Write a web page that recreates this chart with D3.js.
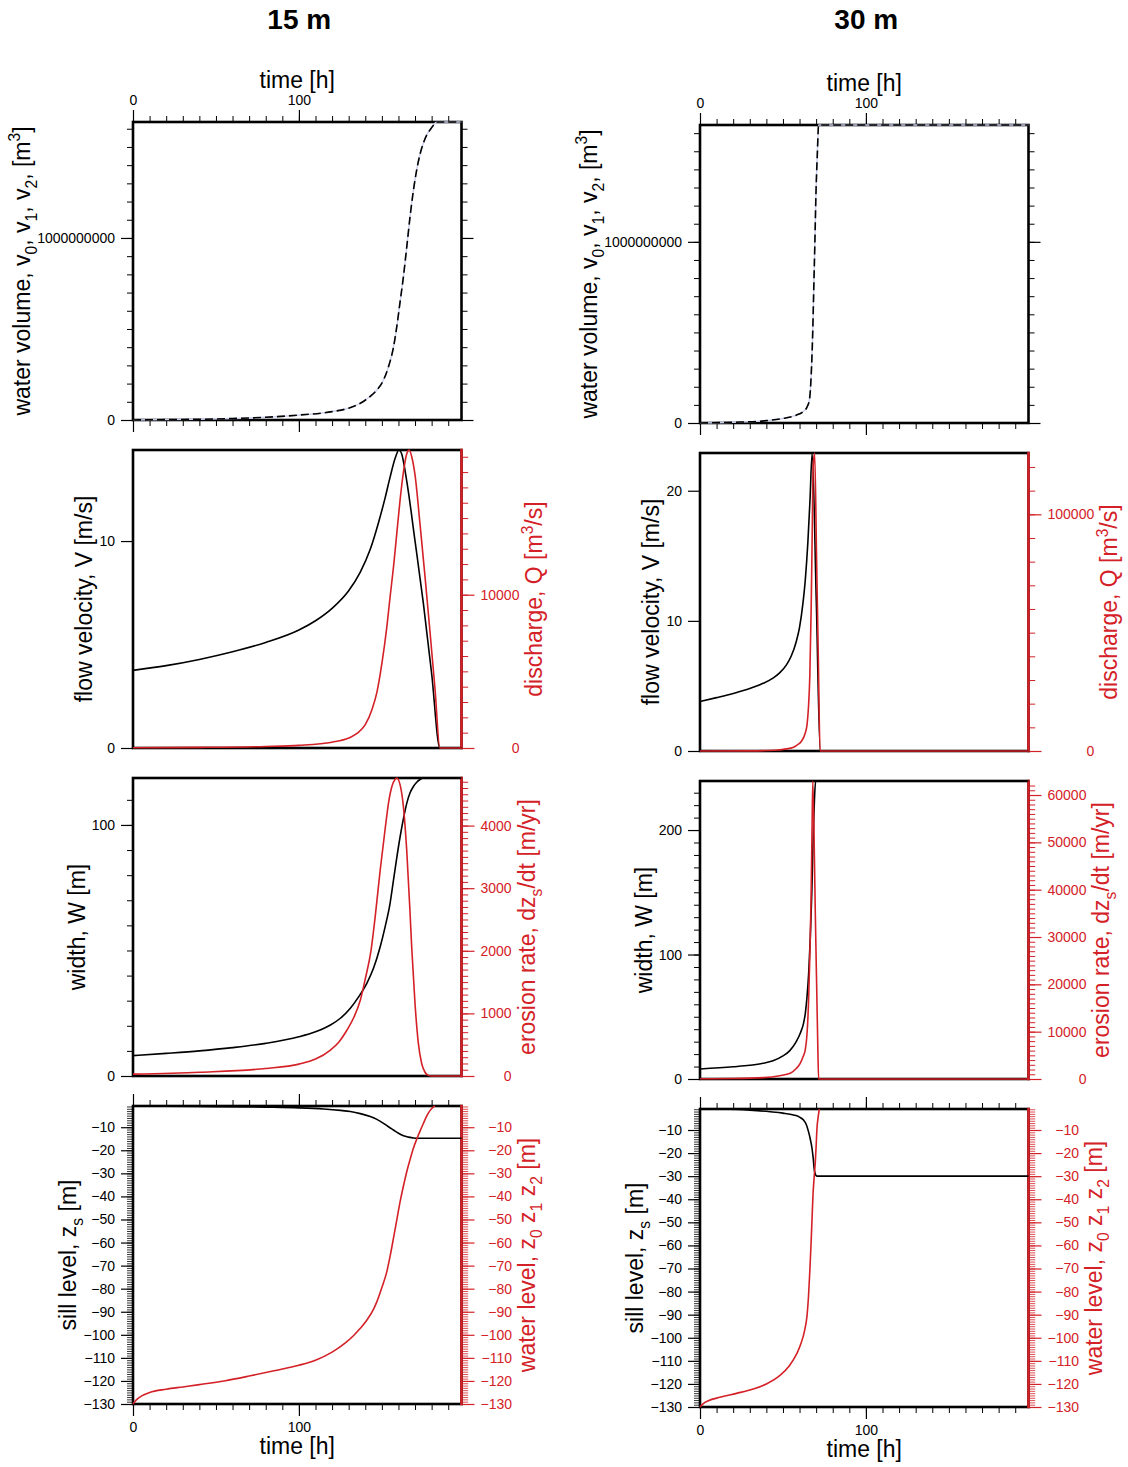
<!DOCTYPE html>
<html>
<head>
<meta charset="utf-8">
<script src="https://cdn.jsdelivr.net/npm/d3@7"></script>
<style>
  body { margin: 0; background: #fff; }
  svg text { white-space: pre; }
</style>
</head>
<body>
<svg id="fig" width="1128" height="1467"></svg>
<script>
// ---------- run with 15 m sill erosion ----------
const time15Volume = [0, 20, 40, 60, 80, 100, 120, 130, 137, 143, 147, 151, 154, 157, 159, 161, 163, 165, 167, 169, 171, 173, 175, 177, 179, 181, 183, 198];
const volume15 = [0, 2e6, 4e6, 8e6, 15e6, 27e6, 46e6, 65e6, 92e6, 130e6, 165e6, 220e6, 293e6, 400e6, 513e6, 650e6, 788e6, 950e6, 1117e6, 1260e6, 1374e6, 1460e6, 1520e6, 1565e6, 1593e6, 1618e6, 1637e6, 1637e6];

const time15Velocity = [0, 20, 40, 60, 80, 100, 110, 120, 130, 137, 143, 148, 152, 155, 158, 160.3, 162, 165, 170, 175, 180, 185, 198];
const velocity15 = [3.75, 3.98, 4.28, 4.65, 5.1, 5.7, 6.15, 6.75, 7.6, 8.5, 9.6, 10.9, 12.1, 13.1, 14.0, 14.4, 14.2, 12.9, 10.0, 7.0, 3.6, 0, 0];

const time15Discharge = [0, 40, 80, 100, 120, 130, 135, 140, 144, 147, 150, 153, 155, 157, 159, 161, 163, 165, 166.5, 168, 170, 173, 176, 179, 182, 185, 198];
const discharge15 = [20, 40, 100, 170, 380, 650, 950, 1520, 2500, 3630, 5500, 7900, 9900, 11800, 14000, 16200, 18000, 19200, 19440, 19000, 17800, 14600, 11200, 7600, 3900, 0, 0];

const time15Width = [0, 20, 40, 60, 80, 100, 110, 119, 125, 131, 136, 141, 145, 149, 152, 155, 157, 159, 161, 163, 165, 167, 169, 171, 173, 175, 198];
const width15 = [8.1, 9.0, 10.0, 11.3, 13.0, 15.6, 17.6, 20.3, 23.0, 27.0, 31.5, 37.0, 43.0, 51.5, 59.5, 69.0, 78.0, 87.0, 95.3, 102.5, 108.6, 112.8, 115.3, 117.0, 118.1, 118.7, 118.7];

const time15Erosion = [0, 40, 80, 100, 110, 119, 124, 129, 133, 137, 140, 143.5, 146, 149, 152, 154, 156, 158, 159, 161, 163, 165, 167, 168, 170, 172, 174, 176, 178, 180, 198];
const erosion15 = [30, 60, 120, 190, 270, 415, 540, 735, 930, 1210, 1550, 2010, 2550, 3290, 3950, 4360, 4620, 4740, 4760, 4650, 4300, 3600, 2600, 2050, 1150, 520, 200, 60, 10, 0, 0];

const time15Sill = [0, 40, 80, 100, 115, 125, 131, 137, 143, 147, 151, 154, 157, 160, 163, 166, 169, 172, 198];
const sill15 = [-0.8, -1.0, -1.3, -1.6, -2.1, -2.7, -3.2, -4.1, -5.4, -6.6, -8.3, -9.8, -11.2, -12.6, -13.7, -14.3, -14.7, -14.8, -14.8];

const time15Water = [0, 2, 5, 10, 20, 30, 40, 55, 70, 85, 100, 110, 120, 128, 133, 137, 141, 145, 147, 150, 153, 155, 157, 159, 161, 163, 165, 167, 169, 171, 173, 175, 177, 179, 181, 182];
const water15 = [-130, -128.2, -126.6, -125, -123.6, -122.6, -121.6, -120.0, -117.9, -115.6, -113.2, -111.0, -107.5, -103.5, -100.3, -97.2, -93.6, -88.9, -85.6, -79.5, -72.6, -65.8, -58.1, -50.2, -42.3, -35.5, -29.3, -24, -19.1, -15.2, -11.7, -8.4, -5.2, -2.8, -1.3, -0.8];

// ---------- run with 30 m sill erosion ----------
const time30Volume = [0, 20, 40, 50, 58, 62, 64.5, 66, 67, 68, 68.5, 69.2, 69.9, 70.7, 71.5, 198];
const volume30 = [0, 4e6, 13e6, 25e6, 43e6, 62e6, 88e6, 130e6, 260e6, 520e6, 715e6, 980e6, 1267e6, 1480e6, 1645e6, 1645e6];

const time30Velocity = [0, 10, 20, 30, 38, 44, 48, 52, 55, 58, 60, 62, 63.5, 65, 66.3, 67.6, 70.1, 72.5, 198];
const velocity30 = [3.8, 4.1, 4.42, 4.8, 5.2, 5.6, 6.0, 6.6, 7.3, 8.4, 9.5, 11.3, 13.2, 16.0, 19.3, 22.9, 11.5, 0, 0];

const time30Discharge = [0, 30, 45, 52, 56, 58.5, 61, 63.4, 64.5, 65.4, 66.2, 67, 67.6, 68.2, 69.1, 70.3, 71.3, 72.4, 198];
const discharge30 = [0, 50, 300, 900, 1500, 2500, 4000, 7500, 11000, 18700, 32000, 60000, 90000, 120000, 125900, 80000, 40000, 0, 0];

const time30Width = [0, 20, 30, 38, 44, 50, 54, 58, 60.5, 62.4, 63.5, 64.5, 65.5, 66.5, 67.4, 68.2, 69, 69.7, 198];
const width30 = [8, 9.8, 11.0, 12.6, 14.6, 18.6, 22.6, 30.0, 37.0, 44.7, 53.0, 66, 85, 114, 150, 194, 225, 239.4, 239.4];

const time30Erosion = [0, 20, 38.3, 48, 54.4, 58, 60.4, 62, 63.4, 64.5, 65.4, 66.2, 66.9, 67.5, 68, 69, 69.5, 70.3, 71, 71.5, 198];
const erosion30 = [50, 100, 300, 700, 1200, 2200, 3300, 4600, 6100, 9500, 16000, 26000, 37200, 52000, 62960, 46000, 35000, 20000, 7000, 0, 0];

const time30Sill = [0, 18, 30, 42.3, 50, 56.4, 60, 62.4, 64, 65.4, 66.5, 67.5, 68.2, 68.9, 69.6, 70.5, 198];
const sill30 = [-0.9, -1.0, -1.4, -2.1, -2.7, -3.5, -4.4, -5.7, -7.5, -10.7, -14, -17.9, -22, -27.3, -29.3, -30, -30];

const time30Water = [0, 2, 5, 12, 22, 32, 40, 48, 54, 58.4, 61, 63, 64.5, 65.4, 66.2, 66.9, 67.5, 68.1, 68.8, 69.5, 70, 70.5, 71.2, 71.9];
const water30 = [-130, -128.5, -127.3, -125.8, -124.1, -122.2, -120.0, -116.4, -112.0, -106.8, -102.2, -97, -90.5, -82, -71, -59.9, -49, -38.2, -30.5, -23.8, -17, -9.3, -4.5, -0.9];

// ---------- tick values ----------
const timeTicks = [0, 100];
const volumeTicks = [0, 1000000000];
const velocityTicks15 = [0, 10];
const velocityTicks30 = [0, 10, 20];
const dischargeTicks15 = [0, 10000];
const dischargeTicks30 = [0, 100000];
const widthTicks15 = [0, 100];
const widthTicks30 = [0, 100, 200];
const erosionTicks15 = [0, 1000, 2000, 3000, 4000];
const erosionTicks30 = [0, 10000, 20000, 30000, 40000, 50000, 60000];
const levelTicks = [-130, -120, -110, -100, -90, -80, -70, -60, -50, -40, -30, -20, -10];

// ---------- layout & style ----------
const FONT = '"Liberation Sans", Arial, Helvetica, sans-serif';
const RED = "#d42127";
const T_MAX = 198;
const PANEL_W = 328.5, PANEL_H = 298, PANEL_STEP = 328;
const TICK_MAJOR = 12, TICK_MINOR = 6;
const fmt = d3.format("d");

const svg = d3.select("#fig").attr("font-family", FONT);

function tickGroup(parent, gen, scale, values, size, color, labelled, pad, sw) {
  const sel = parent.append("g")
    .call(gen(scale).tickValues(values).tickSizeInner(size).tickSizeOuter(0)
      .tickPadding(pad).tickFormat(labelled ? fmt : () => ""));
  sel.attr("font-family", FONT).attr("font-size", 14);
  sel.select(".domain").remove();
  sel.selectAll(".tick line").attr("stroke", color).attr("stroke-width", sw);
  sel.selectAll(".tick text").attr("fill", color);
  return sel;
}

function richTitle(parent, parts, x, y, size, color, rotate) {
  const t = parent.append("text")
    .attr("x", x).attr("y", y)
    .attr("text-anchor", "middle")
    .attr("font-size", size)
    .attr("fill", color);
  if (rotate) t.attr("transform", `rotate(-90 ${x} ${y})`);
  let shift = 0;
  parts.forEach(p => {
    const [s, kind] = Array.isArray(p) ? p : [p, "n"];
    const target = kind === "sub" ? 0.3 * size : kind === "sup" ? -0.42 * size : 0;
    t.append("tspan")
      .attr("dy", target - shift)
      .attr("font-size", kind === "n" ? size : size * 0.68)
      .text(s);
    shift = target;
  });
  return t;
}

function maxWidth(sel) {
  let w = 0;
  sel.selectAll(".tick text").each(function () { w = Math.max(w, this.getComputedTextLength()); });
  return w;
}

function drawPanel(o) {
  const g = svg.append("g");
  const x1 = o.x0 + PANEL_W, bottom = o.top + PANEL_H;
  const x = d3.scaleLinear().domain([0, T_MAX]).range([o.x0, x1]);
  const yL = d3.scaleLinear().domain(o.left.domain).range([bottom, o.top]);
  const yR = o.right ? d3.scaleLinear().domain(o.right.domain).range([bottom, o.top]) : null;

  // time ticks on top / bottom edges
  const timeMinor = d3.range(0, T_MAX, 10);
  if (o.timeTop) {
    const gt = g.append("g").attr("transform", `translate(0,${o.top})`);
    tickGroup(gt, d3.axisTop, x, timeMinor, TICK_MINOR, "#000", false, 0, 1);
    tickGroup(gt, d3.axisTop, x, timeTicks, TICK_MAJOR, "#000", o.timeTop === "labels", 5, 1.2);
    if (o.timeTop === "labels") {
      g.append("text").attr("x", (o.x0 + x1) / 2).attr("y", o.top - 34)
        .attr("text-anchor", "middle").attr("font-size", 23).text("time [h]");
    }
  }
  if (o.timeBottom) {
    const gb = g.append("g").attr("transform", `translate(0,${bottom})`);
    tickGroup(gb, d3.axisBottom, x, timeMinor, TICK_MINOR, "#000", false, 0, 1);
    tickGroup(gb, d3.axisBottom, x, timeTicks, TICK_MAJOR, "#000", o.timeBottom === "labels", 6, 1.2);
    if (o.timeBottom === "labels") {
      g.append("text").attr("x", (o.x0 + x1) / 2).attr("y", bottom + 50)
        .attr("text-anchor", "middle").attr("font-size", 23).text("time [h]");
    }
  }

  // left axis
  const gl = g.append("g").attr("transform", `translate(${o.x0},0)`);
  if (o.left.minor) {
    tickGroup(gl, d3.axisLeft, yL, d3.range(o.left.domain[0], o.left.domain[1], o.left.minor),
      TICK_MINOR, "#000", false, 0, o.left.minorWidth || 1);
  }
  const majorL = tickGroup(gl, d3.axisLeft, yL, o.left.ticks, TICK_MAJOR, "#000", true, 6, 1.2);
  const wL = maxWidth(majorL);
  richTitle(g, o.left.title, o.x0 - 18 - wL - 7, (o.top + bottom) / 2, 23, "#000", true);

  // right axis: mirrored black ticks or red secondary axis
  const gr = g.append("g").attr("transform", `translate(${x1},0)`);
  if (o.mirror) {
    tickGroup(gr, d3.axisRight, yL, d3.range(o.left.domain[0], o.left.domain[1], o.left.minor),
      TICK_MINOR, "#000", false, 0, 1);
    tickGroup(gr, d3.axisRight, yL, o.left.ticks, TICK_MAJOR, "#000", false, 0, 1.2);
  }
  if (o.right) {
    tickGroup(gr, d3.axisRight, yR, d3.range(o.right.domain[0], o.right.domain[1], o.right.minor),
      TICK_MINOR + 0.7, RED, false, 0, o.right.minorWidth || 1);
    const majorR = tickGroup(gr, d3.axisRight, yR, o.right.ticks, TICK_MAJOR + 1, RED, true, 6, 1.2);
    const wR = maxWidth(majorR);
    majorR.selectAll(".tick text").attr("text-anchor", "end").attr("x", 19 + wR);
    richTitle(g, o.right.title, x1 + 19 + wR + 23, (o.top + bottom) / 2, 23, RED, true);
  }

  // frame
  g.append("rect").attr("x", o.x0).attr("y", o.top).attr("width", PANEL_W).attr("height", PANEL_H)
    .attr("fill", "none").attr("stroke", "#000").attr("stroke-width", 2.6);
  if (o.right) {
    g.append("line").attr("x1", x1).attr("x2", x1).attr("y1", o.top - 1.3).attr("y2", bottom + 1.3)
      .attr("stroke", RED).attr("stroke-width", 2.6);
  }

  // series
  o.series.forEach(s => {
    const y = s.side === "right" ? yR : yL;
    const line = d3.line().x(d => x(d[0])).y(d => y(d[1])).curve(d3.curveMonotoneX);
    g.append("path").datum(d3.zip(s.t, s.v))
      .attr("d", line)
      .attr("fill", "none")
      .attr("stroke", s.color)
      .attr("stroke-width", s.width || 1.6)
      .attr("stroke-dasharray", s.dash || null)
      .attr("stroke-linejoin", "round");
  });
}

const volumeTitle = ["water volume, v", ["0", "sub"], ", v", ["1", "sub"], ", v", ["2", "sub"], ", [m", ["3", "sup"], "]"];
const velocityTitle = ["flow velocity, V [m/s]"];
const dischargeTitle = ["discharge, Q [m", ["3", "sup"], "/s]"];
const widthTitle = ["width, W [m]"];
const erosionTitle = ["erosion rate, dz", ["s", "sub"], "/dt [m/yr]"];
const sillTitle = ["sill level, z", ["s", "sub"], " [m]"];
const waterTitle = ["water level, z", ["0", "sub"], " z", ["1", "sub"], " z", ["2", "sub"], " [m]"];

const columns = [
  {
    heading: "15 m", x0: 133, top: 122,
    volume: [time15Volume, volume15],
    velocity: [time15Velocity, velocity15, velocityTicks15],
    discharge: [time15Discharge, discharge15, dischargeTicks15, 1000],
    width: [time15Width, width15, widthTicks15],
    erosion: [time15Erosion, erosion15, erosionTicks15, 100],
    sill: [time15Sill, sill15],
    water: [time15Water, water15]
  },
  {
    heading: "30 m", x0: 700, top: 125,
    volume: [time30Volume, volume30],
    velocity: [time30Velocity, velocity30, velocityTicks30],
    discharge: [time30Discharge, discharge30, dischargeTicks30, 10000],
    width: [time30Width, width30, widthTicks30],
    erosion: [time30Erosion, erosion30, erosionTicks30, 1000],
    sill: [time30Sill, sill30],
    water: [time30Water, water30]
  }
];

columns.forEach(c => {
  svg.append("text")
    .attr("x", c.x0 + PANEL_W / 2 + 2).attr("y", 29)
    .attr("text-anchor", "middle").attr("font-size", 28).attr("font-weight", "bold")
    .text(c.heading);

  // water volume
  drawPanel({
    x0: c.x0, top: c.top, timeTop: "labels", timeBottom: "ticks", mirror: true,
    left: { domain: [0, d3.max(c.volume[1])], ticks: volumeTicks, minor: 1e8, title: volumeTitle },
    series: [
      { t: c.volume[0], v: c.volume[1], color: "#c9cff0", width: 1.4 },
      { t: c.volume[0], v: c.volume[1], color: "#000", width: 1.6, dash: "8,4" }
    ]
  });

  // flow velocity & discharge
  drawPanel({
    x0: c.x0, top: c.top + PANEL_STEP,
    left: { domain: [0, d3.max(c.velocity[1])], ticks: c.velocity[2], title: velocityTitle },
    right: { domain: [0, d3.max(c.discharge[1])], ticks: c.discharge[2], minor: c.discharge[3], title: dischargeTitle },
    series: [
      { t: c.velocity[0], v: c.velocity[1], color: "#000" },
      { t: c.discharge[0], v: c.discharge[1], color: RED, side: "right" }
    ]
  });

  // width & erosion rate
  drawPanel({
    x0: c.x0, top: c.top + 2 * PANEL_STEP,
    left: { domain: [0, d3.max(c.width[1])], ticks: c.width[2], minor: 10, title: widthTitle },
    right: { domain: [0, d3.max(c.erosion[1])], ticks: c.erosion[2], minor: c.erosion[3], title: erosionTitle },
    series: [
      { t: c.width[0], v: c.width[1], color: "#000" },
      { t: c.erosion[0], v: c.erosion[1], color: RED, side: "right" }
    ]
  });

  // sill level & water level
  const levelTop = Math.max(d3.max(c.sill[1]), d3.max(c.water[1]));
  drawPanel({
    x0: c.x0, top: c.top + 3 * PANEL_STEP, timeTop: "ticks", timeBottom: "labels",
    left: { domain: [-130, levelTop], ticks: levelTicks, minor: 1, minorWidth: 0.8, title: sillTitle },
    right: { domain: [-130, levelTop], ticks: levelTicks, minor: 1, minorWidth: 0.8, title: waterTitle },
    series: [
      { t: c.sill[0], v: c.sill[1], color: "#000" },
      { t: c.water[0], v: c.water[1], color: RED, side: "right" }
    ]
  });
});
</script>
</body>
</html>
